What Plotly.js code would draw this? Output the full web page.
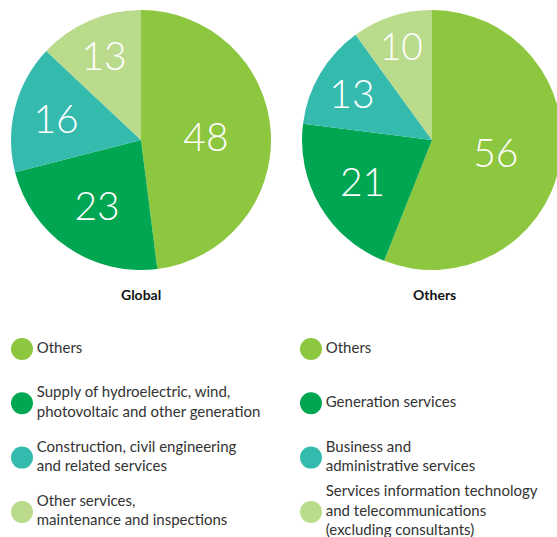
<!DOCTYPE html>
<html>
<head>
<meta charset="utf-8">
<script src="https://cdn.plot.ly/plotly-3.0.1.min.js"></script>
<style>
  html, body { margin: 0; padding: 0; overflow: hidden; background: #fff; }
  #grafico { width: 565px; height: 537px; }
</style>
</head>
<body>
<div id="grafico"></div>
<script>
// --- Dados ---

const globalLabels = [
  "Others",
  "Supply of hydroelectric, wind,<br>photovoltaic and other generation",
  "Construction, civil engineering<br>and related services",
  "Other services,<br>maintenance and inspections"
];
const globalValues = [48, 23, 16, 13];

const othersLabels = [
  "Others",
  "Generation services",
  "Business and<br>administrative services",
  "Services information technology<br>and telecommunications<br>(excluding consultants)"
];
const othersValues = [56, 21, 13, 10];

const pieTitles = ["Global", "Others"];

const cores = ["#8dc63f", "#00a651", "#35bbae", "#badb8b"];

// --- Montagem ---

const W = 565;
const H = 537;
const fonte = "Lato, 'Open Sans', sans-serif";

function piePara(labels, values, x0, x1) {
  return {
    type: "pie",
    labels: labels,
    values: values,
    sort: false,
    direction: "clockwise",
    rotation: 0,
    textinfo: "value",
    textposition: "inside",
    insidetextorientation: "horizontal",
    textfont: { color: "#ffffff", size: 39, family: fonte, weight: 300 },
    marker: { colors: cores, line: { width: 0 } },
    domain: { x: [x0 / W, x1 / W], y: [(H - 270) / H, (H - 10) / H] },
    hoverinfo: "none",
    showlegend: false
  };
}

const traceGlobal = piePara(globalLabels, globalValues, 11, 271);
const traceOthers = piePara(othersLabels, othersValues, 302, 562);

// legenda desenhada como pontos: coluna = grupo, linha = categoria
function legendaPara(labels, coluna) {
  return {
    type: "scatter",
    mode: "markers+text",
    x: labels.map(() => coluna),
    y: labels.map((_, i) => i),
    text: labels,
    textposition: "middle right",
    textfont: { color: "#333333", size: 15, family: fonte },
    marker: { size: 22, color: cores, line: { width: 0 } },
    hoverinfo: "none",
    showlegend: false,
    cliponaxis: false
  };
}

const legGlobal = legendaPara(globalLabels, 0);
const legOthers = legendaPara(othersLabels, 1);

const layout = {
  width: W,
  height: H,
  margin: { t: 0, b: 0, l: 0, r: 0 },
  paper_bgcolor: "#ffffff",
  plot_bgcolor: "rgba(0,0,0,0)",
  font: { family: fonte, color: "#333333" },
  xaxis: {
    range: [-22 / 289, (W - 22) / 289],
    visible: false,
    fixedrange: true
  },
  yaxis: {
    range: [(H - 349) / 54.3, -349 / 54.3],
    visible: false,
    fixedrange: true
  },
  annotations: [
    {
      text: "<b>" + pieTitles[0] + "</b>",
      x: 141 / W, y: (H - 294) / H,
      xref: "paper", yref: "paper",
      xanchor: "center", yanchor: "middle",
      showarrow: false,
      font: { size: 14, color: "#111111", family: fonte }
    },
    {
      text: "<b>" + pieTitles[1] + "</b>",
      x: 434 / W, y: (H - 294) / H,
      xref: "paper", yref: "paper",
      xanchor: "center", yanchor: "middle",
      showarrow: false,
      font: { size: 14, color: "#111111", family: fonte }
    }
  ]
};

Plotly.newPlot("grafico", [legGlobal, legOthers, traceGlobal, traceOthers], layout, {
  displayModeBar: false,
  staticPlot: true
});
</script>
</body>
</html>
